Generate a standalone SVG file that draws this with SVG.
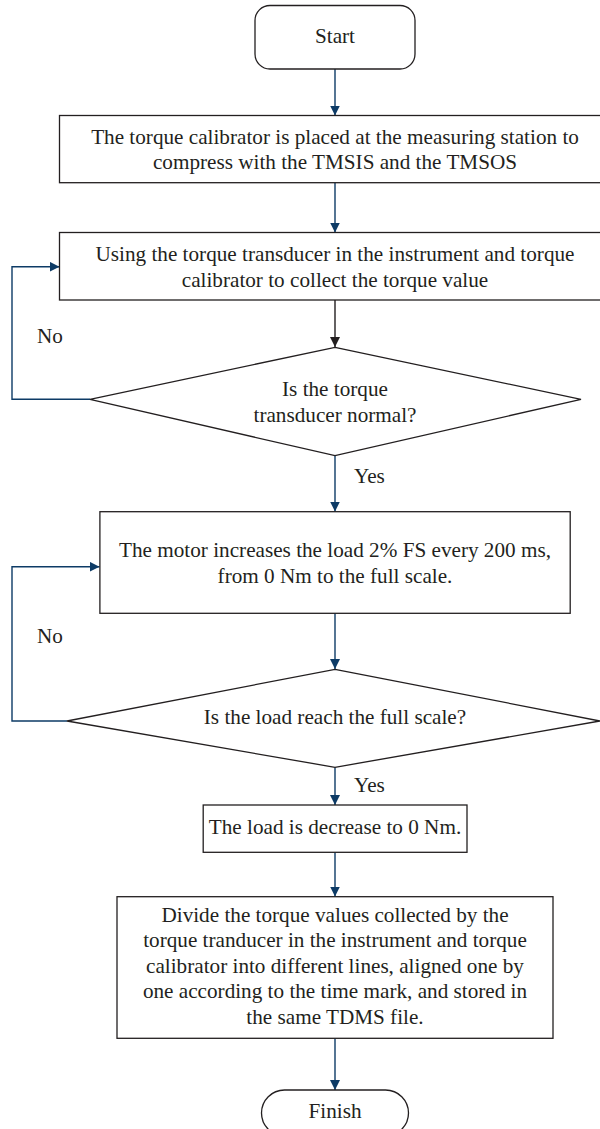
<svg xmlns="http://www.w3.org/2000/svg" width="600" height="1129" viewBox="0 0 600 1129">
<style>
.n{fill:#fff;stroke:#231f20;stroke-width:1.3}
.t{font-family:"Liberation Serif","Times New Roman",serif;font-size:21.2px;fill:#231f20;text-anchor:middle}
.l{font-family:"Liberation Serif","Times New Roman",serif;font-size:21.2px;fill:#231f20}
.c{fill:none;stroke:#0d3b66;stroke-width:1.4}
.k{fill:none;stroke:#231f20;stroke-width:1.4}
</style>
<defs>
<marker id="a" viewBox="0 0 10 10" refX="10" refY="5" markerWidth="10" markerHeight="10" markerUnits="userSpaceOnUse" orient="auto"><path d="M0,0 L10,5 L0,10 z" fill="#0d3b66"/></marker>
<marker id="b" viewBox="0 0 10 10" refX="10" refY="5" markerWidth="10" markerHeight="10" markerUnits="userSpaceOnUse" orient="auto"><path d="M0,0 L10,5 L0,10 z" fill="#231f20"/></marker>
</defs>
<rect width="600" height="1129" fill="#fff"/>
<g id="connectors">
<path class="c" d="M335,69 V115.5" marker-end="url(#a)"/>
<path class="c" d="M335,182.7 V232.5" marker-end="url(#a)"/>
<path class="k" d="M335,300 V347" marker-end="url(#b)"/>
<path class="c" d="M90,399.3 H12 V266.7 H59.5" marker-end="url(#a)"/>
<path class="c" d="M335,455.7 V511.5" marker-end="url(#a)"/>
<path class="c" d="M335,613.3 V669" marker-end="url(#a)"/>
<path class="c" d="M67,721 H12 V566.7 H99.5" marker-end="url(#a)"/>
<path class="c" d="M335,767.3 V805" marker-end="url(#a)"/>
<path class="c" d="M335,852.3 V896.5" marker-end="url(#a)"/>
<path class="c" d="M335,1038.3 V1090" marker-end="url(#a)"/>
<text class="l" x="37" y="342.7">No</text>
<text class="l" x="354" y="483">Yes</text>
<text class="l" x="37" y="643">No</text>
<text class="l" x="354" y="791.7">Yes</text>
</g>
<g id="start">
<rect class="n" x="255" y="5.5" width="160" height="63.5" rx="15" ry="15"/>
<text class="t" x="335" y="43">Start</text>
</g>
<g id="step1">
<rect class="n" x="59.5" y="115.5" width="545" height="67.2"/>
<text class="t" x="335" y="144">The torque calibrator is placed at the measuring station to</text>
<text class="t" x="335" y="169">compress with the TMSIS and the TMSOS</text>
</g>
<g id="step2">
<rect class="n" x="59.5" y="232.5" width="545" height="67.5"/>
<text class="t" x="335" y="261">Using the torque transducer in the instrument and torque</text>
<text class="t" x="335" y="287">calibrator to collect the torque value</text>
</g>
<g id="decision1">
<polygon class="n" points="335,347.3 581,399.3 335,455.7 90,399.3"/>
<text class="t" x="335" y="396">Is the torque</text>
<text class="t" x="335" y="422">transducer normal?</text>
</g>
<g id="step3">
<rect class="n" x="99.9" y="511.7" width="470.3" height="101.6"/>
<text class="t" x="335" y="557">The motor increases the load 2% FS every 200 ms,</text>
<text class="t" x="335" y="583">from 0 Nm to the full scale.</text>
</g>
<g id="decision2">
<polygon class="n" points="335,669.3 600,721 335,767.3 67,721"/>
<text class="t" x="335" y="723.5">Is the load reach the full scale?</text>
</g>
<g id="step4">
<rect class="n" x="203.2" y="805" width="263.8" height="47.3"/>
<text class="t" x="335" y="834">The load is decrease to 0 Nm.</text>
</g>
<g id="step5">
<rect class="n" x="117" y="896.7" width="436" height="141.6"/>
<text class="t" x="335" y="922">Divide the torque values collected by the</text>
<text class="t" x="335" y="947">torque tranducer in the instrument and torque</text>
<text class="t" x="335" y="973">calibrator into different lines, aligned one by</text>
<text class="t" x="335" y="998">one according to the time mark, and stored in</text>
<text class="t" x="335" y="1023.5">the same TDMS file.</text>
</g>
<g id="finish">
<rect class="n" x="261.5" y="1090" width="147" height="46" rx="23" ry="23"/>
<text class="t" x="335" y="1118">Finish</text>
</g>
</svg>
